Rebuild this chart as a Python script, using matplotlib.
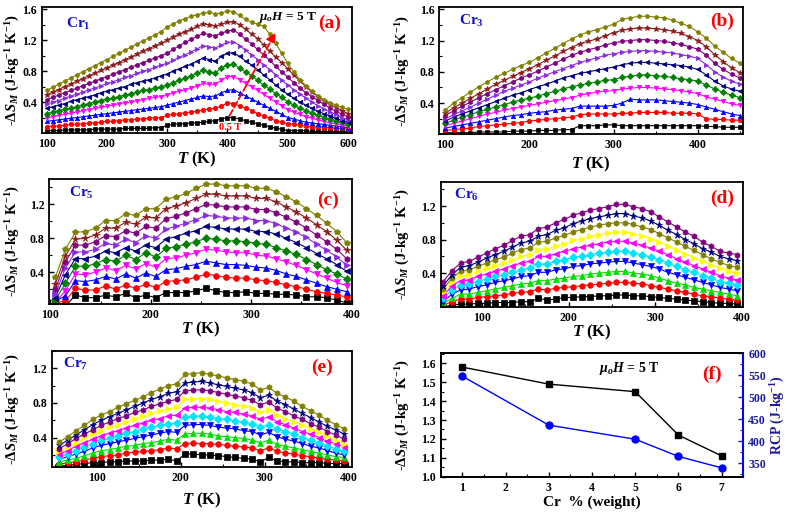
import matplotlib
matplotlib.use('Agg')
import matplotlib.pyplot as plt
from matplotlib.ticker import AutoMinorLocator

plt.rcParams.update({
    'font.family': ['Liberation Serif', 'DejaVu Serif'],
    'font.weight': 'bold',
    'axes.labelweight': 'bold',
    'mathtext.fontset': 'custom',
    'mathtext.rm': 'Liberation Serif:bold',
    'mathtext.it': 'Liberation Serif:italic:bold',
    'mathtext.bf': 'Liberation Serif:bold',
    'xtick.direction': 'in', 'ytick.direction': 'in',
    'xtick.minor.visible': True, 'ytick.minor.visible': True,
    'axes.linewidth': 1.3,
})

# ---------------- data ----------------
T_cr1 = list(range(100, 601, 10))
cr1_ds = [
 [0.03,0.03,0.03,0.04,0.04,0.04,0.04,0.04,0.05,0.05,0.05,0.05,0.05,0.06,0.06,0.06,0.06,0.06,0.07,0.07,
  0.10,0.11,0.12,0.12,0.13,0.13,0.14,0.15,0.16,0.18,0.20,0.20,0.18,0.16,0.14,0.12,0.10,0.08,0.06,0.05,
  0.03,0.03,0.03,0.03,0.02,0.02,0.02,0.02,0.02,0.02,0.02],
 [0.08,0.09,0.09,0.10,0.11,0.11,0.12,0.13,0.13,0.14,0.15,0.15,0.16,0.17,0.17,0.18,0.18,0.19,0.20,0.20,
  0.23,0.24,0.25,0.26,0.27,0.28,0.30,0.31,0.32,0.35,0.39,0.38,0.35,0.32,0.29,0.25,0.22,0.19,0.16,0.14,
  0.12,0.11,0.10,0.09,0.08,0.08,0.07,0.07,0.06,0.06,0.05],
 [0.15,0.16,0.17,0.18,0.19,0.20,0.21,0.22,0.23,0.24,0.25,0.26,0.27,0.28,0.29,0.30,0.31,0.32,0.33,0.34,
  0.36,0.38,0.40,0.42,0.44,0.46,0.48,0.47,0.48,0.52,0.55,0.56,0.52,0.48,0.44,0.40,0.36,0.32,0.28,0.24,
  0.20,0.18,0.16,0.14,0.13,0.12,0.11,0.10,0.09,0.08,0.07],
 [0.20,0.21,0.23,0.24,0.26,0.27,0.29,0.30,0.32,0.33,0.35,0.36,0.38,0.39,0.40,0.42,0.43,0.45,0.46,0.47,
  0.49,0.52,0.54,0.56,0.58,0.61,0.64,0.63,0.63,0.68,0.73,0.73,0.69,0.64,0.60,0.55,0.50,0.45,0.40,0.35,
  0.30,0.27,0.24,0.21,0.19,0.17,0.15,0.13,0.12,0.10,0.09],
 [0.25,0.27,0.29,0.31,0.32,0.34,0.36,0.38,0.40,0.42,0.44,0.45,0.47,0.49,0.51,0.53,0.55,0.56,0.58,0.60,
  0.62,0.65,0.68,0.71,0.74,0.77,0.81,0.79,0.78,0.84,0.88,0.89,0.84,0.79,0.74,0.68,0.62,0.57,0.51,0.46,
  0.40,0.36,0.32,0.29,0.26,0.23,0.20,0.18,0.16,0.14,0.12],
 [0.32,0.34,0.36,0.38,0.41,0.43,0.45,0.47,0.49,0.52,0.54,0.56,0.58,0.60,0.63,0.65,0.67,0.69,0.71,0.74,
  0.76,0.80,0.83,0.86,0.89,0.93,0.97,0.95,0.93,0.99,1.03,1.04,0.99,0.93,0.88,0.82,0.75,0.69,0.62,0.56,
  0.50,0.45,0.40,0.36,0.32,0.28,0.25,0.22,0.19,0.16,0.14],
 [0.37,0.40,0.42,0.45,0.48,0.50,0.53,0.56,0.58,0.61,0.64,0.66,0.69,0.72,0.74,0.77,0.80,0.82,0.85,0.88,
  0.90,0.94,0.98,1.01,1.05,1.09,1.13,1.11,1.10,1.14,1.17,1.18,1.13,1.07,1.01,0.95,0.88,0.82,0.75,0.68,
  0.62,0.56,0.50,0.45,0.40,0.35,0.31,0.27,0.24,0.20,0.17],
 [0.43,0.46,0.49,0.52,0.55,0.58,0.61,0.64,0.67,0.70,0.73,0.76,0.79,0.82,0.85,0.88,0.91,0.94,0.97,1.00,
  1.03,1.08,1.13,1.17,1.21,1.25,1.29,1.27,1.26,1.29,1.32,1.33,1.28,1.21,1.15,1.08,1.01,0.94,0.86,0.79,
  0.72,0.65,0.58,0.52,0.47,0.42,0.37,0.32,0.28,0.24,0.21],
 [0.49,0.53,0.56,0.60,0.63,0.67,0.70,0.74,0.77,0.81,0.84,0.88,0.91,0.95,0.98,1.02,1.06,1.09,1.13,1.16,
  1.20,1.24,1.28,1.31,1.34,1.38,1.41,1.40,1.38,1.41,1.43,1.44,1.40,1.34,1.28,1.22,1.14,1.06,0.98,0.91,
  0.83,0.75,0.67,0.60,0.53,0.47,0.42,0.37,0.33,0.29,0.25],
 [0.55,0.59,0.63,0.67,0.71,0.75,0.79,0.83,0.87,0.91,0.95,0.99,1.03,1.07,1.11,1.15,1.19,1.23,1.27,1.31,
  1.37,1.41,1.45,1.48,1.51,1.53,1.55,1.56,1.54,1.55,1.58,1.57,1.52,1.47,1.43,1.41,1.38,1.28,1.16,1.03,
  0.90,0.79,0.69,0.61,0.54,0.48,0.43,0.39,0.36,0.33,0.31],
]

T_cr3 = list(range(100, 451, 10))
cr3_ds = [
 [0.02,0.02,0.02,0.02,0.03,0.03,0.03,0.03,0.04,0.04,0.04,0.05,0.05,0.05,0.06,0.06,0.11,0.11,0.11,0.12,0.12,
  0.11,0.11,0.11,0.11,0.11,0.11,0.11,0.11,0.11,0.11,0.10,0.10,0.09,0.09,0.09],
 [0.05,0.06,0.07,0.08,0.10,0.11,0.12,0.13,0.14,0.15,0.17,0.18,0.19,0.20,0.21,0.22,0.25,0.26,0.26,0.26,0.26,
  0.27,0.27,0.28,0.28,0.28,0.28,0.27,0.27,0.27,0.26,0.20,0.19,0.19,0.18,0.18],
 [0.08,0.10,0.12,0.14,0.16,0.18,0.20,0.22,0.24,0.25,0.27,0.28,0.29,0.31,0.32,0.33,0.36,0.36,0.36,0.36,0.37,
  0.40,0.45,0.44,0.44,0.44,0.43,0.42,0.41,0.40,0.38,0.35,0.32,0.29,0.26,0.24],
 [0.11,0.14,0.17,0.20,0.23,0.26,0.28,0.31,0.33,0.35,0.37,0.39,0.41,0.43,0.45,0.47,0.50,0.52,0.54,0.55,0.56,
  0.58,0.59,0.60,0.60,0.59,0.58,0.57,0.56,0.54,0.52,0.48,0.45,0.42,0.39,0.37],
 [0.14,0.18,0.22,0.25,0.29,0.32,0.35,0.38,0.41,0.44,0.46,0.49,0.52,0.55,0.58,0.61,0.63,0.65,0.67,0.69,0.70,
  0.73,0.74,0.76,0.76,0.75,0.74,0.73,0.71,0.70,0.68,0.63,0.58,0.54,0.50,0.47],
 [0.17,0.22,0.26,0.30,0.34,0.38,0.42,0.46,0.50,0.53,0.57,0.61,0.64,0.68,0.72,0.75,0.78,0.80,0.82,0.84,0.86,
  0.89,0.91,0.92,0.92,0.91,0.90,0.89,0.88,0.86,0.83,0.76,0.68,0.62,0.58,0.55],
 [0.20,0.25,0.30,0.35,0.40,0.45,0.50,0.55,0.59,0.63,0.67,0.72,0.76,0.80,0.84,0.88,0.92,0.95,0.98,1.01,1.03,
  1.05,1.06,1.07,1.07,1.06,1.05,1.04,1.02,1.00,0.97,0.89,0.80,0.73,0.68,0.64],
 [0.24,0.30,0.36,0.41,0.47,0.52,0.57,0.62,0.67,0.72,0.76,0.81,0.86,0.91,0.96,1.01,1.05,1.08,1.11,1.14,1.17,
  1.19,1.20,1.21,1.21,1.20,1.19,1.17,1.15,1.12,1.09,1.01,0.91,0.83,0.77,0.72],
 [0.27,0.34,0.40,0.46,0.52,0.58,0.64,0.69,0.74,0.79,0.84,0.89,0.95,1.00,1.06,1.11,1.16,1.19,1.22,1.26,1.30,
  1.33,1.35,1.36,1.36,1.35,1.34,1.32,1.29,1.25,1.20,1.12,1.02,0.93,0.85,0.79],
 [0.31,0.40,0.47,0.54,0.61,0.67,0.73,0.78,0.83,0.88,0.92,0.98,1.04,1.10,1.16,1.22,1.27,1.31,1.34,1.37,1.41,
  1.47,1.49,1.51,1.51,1.50,1.49,1.46,1.42,1.38,1.31,1.23,1.13,1.05,0.97,0.91],
]

T_cr5 = list(range(105, 396, 10))
cr5_ds = [
 [0.06,0.00,0.13,0.10,0.10,0.13,0.11,0.15,0.10,0.13,0.10,0.16,0.16,0.16,0.18,0.21,0.18,0.16,0.16,0.17,
  0.15,0.15,0.14,0.14,0.13,0.11,0.11,0.10,0.07,0.04],
 [0.04,0.06,0.21,0.19,0.19,0.24,0.20,0.25,0.21,0.26,0.22,0.29,0.30,0.31,0.34,0.38,0.36,0.34,0.33,0.33,
  0.31,0.30,0.28,0.25,0.23,0.20,0.17,0.15,0.13,0.11],
 [0.06,0.12,0.30,0.29,0.31,0.35,0.32,0.38,0.33,0.39,0.35,0.43,0.44,0.47,0.49,0.53,0.51,0.49,0.49,0.48,
  0.46,0.45,0.42,0.38,0.35,0.31,0.27,0.23,0.20,0.17],
 [0.05,0.18,0.38,0.37,0.40,0.45,0.42,0.48,0.44,0.50,0.46,0.56,0.57,0.60,0.63,0.67,0.66,0.64,0.63,0.63,
  0.60,0.59,0.56,0.52,0.48,0.43,0.38,0.33,0.28,0.24],
 [0.07,0.27,0.47,0.47,0.50,0.55,0.53,0.60,0.55,0.63,0.58,0.68,0.70,0.73,0.76,0.80,0.79,0.77,0.77,0.76,
  0.74,0.73,0.69,0.65,0.61,0.55,0.49,0.43,0.38,0.32],
 [0.10,0.37,0.56,0.56,0.59,0.65,0.63,0.69,0.65,0.72,0.69,0.79,0.82,0.86,0.89,0.94,0.93,0.91,0.91,0.91,
  0.88,0.88,0.85,0.80,0.75,0.69,0.62,0.56,0.49,0.41],
 [0.14,0.45,0.64,0.64,0.67,0.74,0.72,0.79,0.75,0.83,0.80,0.91,0.94,0.98,1.02,1.07,1.06,1.04,1.04,1.04,
  1.01,1.01,0.97,0.92,0.87,0.81,0.73,0.66,0.58,0.48],
 [0.20,0.52,0.72,0.72,0.76,0.83,0.82,0.89,0.86,0.94,0.92,1.03,1.06,1.10,1.15,1.20,1.19,1.17,1.17,1.17,
  1.14,1.14,1.10,1.05,0.99,0.92,0.84,0.76,0.67,0.56],
 [0.26,0.59,0.79,0.80,0.84,0.92,0.92,0.99,0.97,1.05,1.04,1.15,1.18,1.22,1.27,1.32,1.32,1.30,1.30,1.30,
  1.27,1.27,1.23,1.17,1.11,1.04,0.96,0.88,0.78,0.66],
 [0.34,0.67,0.87,0.88,0.92,1.01,1.01,1.09,1.07,1.15,1.15,1.26,1.29,1.33,1.39,1.44,1.44,1.42,1.42,1.42,
  1.39,1.39,1.35,1.29,1.23,1.15,1.07,0.98,0.88,0.75],
]

T_cr6 = list(range(55, 396, 10))
cr6_ds = [
 [0.00,0.02,0.03,0.03,0.04,0.04,0.05,0.05,0.05,0.06,0.06,0.10,0.08,0.09,0.11,0.11,0.12,0.12,0.13,0.13,
  0.14,0.14,0.13,0.13,0.12,0.11,0.10,0.09,0.08,0.07,0.06,0.05,0.04,0.04,0.03],
 [0.02,0.06,0.09,0.09,0.11,0.12,0.13,0.14,0.16,0.17,0.18,0.21,0.20,0.22,0.23,0.24,0.25,0.26,0.27,0.28,
  0.29,0.29,0.28,0.27,0.25,0.23,0.21,0.19,0.17,0.15,0.13,0.12,0.10,0.09,0.08],
 [0.04,0.10,0.15,0.15,0.17,0.19,0.21,0.23,0.25,0.27,0.28,0.31,0.31,0.33,0.34,0.36,0.37,0.39,0.40,0.41,
  0.42,0.42,0.40,0.39,0.37,0.34,0.31,0.28,0.26,0.23,0.21,0.19,0.17,0.15,0.13],
 [0.06,0.15,0.20,0.21,0.24,0.26,0.29,0.31,0.33,0.36,0.37,0.41,0.41,0.44,0.45,0.48,0.49,0.51,0.52,0.53,
  0.54,0.54,0.52,0.50,0.48,0.45,0.41,0.38,0.35,0.32,0.29,0.26,0.23,0.21,0.19],
 [0.10,0.20,0.26,0.27,0.30,0.33,0.36,0.38,0.41,0.44,0.46,0.51,0.51,0.54,0.56,0.59,0.60,0.62,0.64,0.65,
  0.66,0.66,0.64,0.62,0.59,0.56,0.52,0.48,0.44,0.41,0.37,0.34,0.30,0.28,0.26],
 [0.13,0.25,0.31,0.32,0.36,0.39,0.42,0.45,0.49,0.52,0.54,0.60,0.60,0.63,0.66,0.69,0.71,0.73,0.75,0.77,
  0.78,0.78,0.76,0.73,0.70,0.66,0.62,0.57,0.53,0.49,0.45,0.41,0.37,0.34,0.32],
 [0.17,0.30,0.37,0.38,0.42,0.46,0.49,0.52,0.56,0.60,0.62,0.68,0.69,0.72,0.75,0.79,0.81,0.84,0.86,0.88,
  0.89,0.89,0.87,0.84,0.81,0.77,0.72,0.67,0.63,0.58,0.54,0.50,0.46,0.42,0.40],
 [0.21,0.34,0.42,0.44,0.48,0.52,0.56,0.59,0.64,0.68,0.70,0.77,0.78,0.82,0.85,0.89,0.92,0.95,0.97,0.99,
  1.00,1.00,0.98,0.95,0.92,0.87,0.82,0.77,0.72,0.67,0.62,0.57,0.53,0.49,0.47],
 [0.25,0.38,0.47,0.49,0.53,0.58,0.62,0.66,0.71,0.76,0.78,0.84,0.86,0.91,0.94,0.99,1.02,1.05,1.07,1.09,
  1.11,1.11,1.08,1.06,1.02,0.97,0.91,0.86,0.80,0.75,0.69,0.65,0.60,0.57,0.55],
 [0.30,0.43,0.52,0.54,0.59,0.64,0.69,0.73,0.79,0.84,0.86,0.93,0.95,1.00,1.04,1.09,1.12,1.15,1.17,1.19,
  1.22,1.22,1.19,1.17,1.13,1.07,1.01,0.95,0.89,0.84,0.77,0.72,0.66,0.64,0.62],
]

T_cr7 = list(range(55, 396, 10))
cr7_ds = [
 [0.07,0.08,0.09,0.10,0.11,0.11,0.12,0.12,0.13,0.13,0.13,0.14,0.14,0.15,0.13,0.21,0.21,0.20,0.20,0.19,
  0.18,0.17,0.16,0.15,0.12,0.17,0.13,0.12,0.12,0.11,0.11,0.11,0.10,0.10,0.10],
 [0.09,0.11,0.12,0.14,0.16,0.18,0.19,0.20,0.22,0.23,0.24,0.25,0.26,0.28,0.27,0.33,0.34,0.33,0.33,0.32,
  0.31,0.30,0.29,0.28,0.25,0.28,0.24,0.22,0.21,0.19,0.18,0.16,0.15,0.14,0.13],
 [0.12,0.14,0.16,0.19,0.22,0.25,0.26,0.28,0.30,0.31,0.33,0.34,0.36,0.38,0.37,0.44,0.45,0.45,0.44,0.42,
  0.41,0.40,0.39,0.37,0.34,0.37,0.32,0.30,0.28,0.26,0.24,0.22,0.20,0.18,0.17],
 [0.15,0.18,0.21,0.24,0.28,0.31,0.33,0.35,0.37,0.39,0.41,0.43,0.45,0.47,0.46,0.54,0.55,0.55,0.54,0.52,
  0.51,0.50,0.48,0.47,0.43,0.46,0.41,0.38,0.36,0.33,0.30,0.28,0.25,0.22,0.20],
 [0.18,0.21,0.25,0.29,0.33,0.37,0.39,0.42,0.45,0.47,0.50,0.52,0.54,0.56,0.57,0.64,0.65,0.65,0.64,0.62,
  0.61,0.59,0.58,0.56,0.52,0.55,0.50,0.47,0.44,0.40,0.37,0.34,0.30,0.27,0.24],
 [0.21,0.25,0.30,0.34,0.38,0.42,0.45,0.48,0.51,0.54,0.57,0.60,0.62,0.65,0.66,0.74,0.75,0.75,0.74,0.72,
  0.70,0.69,0.67,0.65,0.61,0.64,0.58,0.55,0.51,0.47,0.44,0.40,0.36,0.33,0.29],
 [0.24,0.29,0.34,0.39,0.44,0.48,0.52,0.55,0.58,0.62,0.65,0.68,0.71,0.73,0.75,0.84,0.85,0.85,0.84,0.82,
  0.80,0.78,0.76,0.74,0.69,0.72,0.66,0.62,0.58,0.54,0.50,0.46,0.42,0.37,0.33],
 [0.27,0.33,0.39,0.44,0.49,0.54,0.58,0.62,0.65,0.69,0.72,0.76,0.79,0.82,0.84,0.94,0.95,0.95,0.94,0.92,
  0.90,0.88,0.86,0.83,0.78,0.81,0.74,0.70,0.65,0.61,0.56,0.52,0.47,0.43,0.38],
 [0.31,0.37,0.43,0.49,0.55,0.60,0.64,0.68,0.72,0.76,0.80,0.84,0.87,0.91,0.93,1.03,1.04,1.05,1.03,1.01,
  0.99,0.97,0.95,0.92,0.86,0.89,0.82,0.78,0.73,0.68,0.63,0.58,0.53,0.49,0.44],
 [0.35,0.41,0.48,0.54,0.61,0.66,0.70,0.75,0.79,0.83,0.87,0.92,0.96,1.00,1.02,1.13,1.14,1.15,1.13,1.11,
  1.09,1.07,1.05,1.02,0.95,0.98,0.91,0.87,0.82,0.76,0.71,0.66,0.60,0.55,0.50],
]

cr_content = [1, 3, 5, 6, 7]
peak_ds = [1.58, 1.49, 1.45, 1.22, 1.11]
rcp = [548, 437, 405, 366, 340]

# ---------------- styles ----------------
styleA = [('s', 'black'), ('o', '#ff0000'), ('^', '#0000ff'), ('v', '#ff00ff'),
          ('D', '#008000'), ('<', '#000080'), ('>', '#8a2be2'), ('h', '#800080'),
          ('*', '#8b1a1a'), ('p', '#808000')]
styleD = [('s', 'black'), ('o', '#ff0000'), ('^', '#00dd00'), ('v', '#0000ff'),
          ('D', '#00e5ff'), ('<', '#ff00ff'), ('>', '#ffff00'), ('h', '#808000'),
          ('*', '#000080'), ('h', '#800080')]
styleE = [('s', 'black'), ('o', '#ff0000'), ('^', '#00dd00'), ('v', '#0000ff'),
          ('D', '#00e5ff'), ('<', '#ff00ff'), ('>', '#ffff00'), ('h', '#800080'),
          ('*', '#000080'), ('h', '#808000')]

W, H = 787, 514
fig = plt.figure(figsize=(W / 100, H / 100), dpi=100)

def box(l, t, r, b):
    return [l / W, 1 - b / H, (r - l) / W, (b - t) / H]

YLAB = r'-$\Delta S_M$ (J-kg$^{-1}$ K$^{-1}$)'

def panel(rect, T, rows, styles, ms, xlim, ylim, xt, yt, crtxt, crpos, tag, tagpos, ylx, xly):
    ax = fig.add_axes(rect)
    for row, (m, c) in zip(rows, styles):
        ax.plot(T, row, marker=m, color=c, ms=ms * (1.3 if m == '*' else 1.0),
                lw=0.8, mec=c, mew=0.5)
    ax.set_xlim(*xlim)
    ax.set_ylim(*ylim)
    ax.set_xticks(xt)
    ax.set_yticks(yt)
    ax.xaxis.set_minor_locator(AutoMinorLocator(2))
    ax.yaxis.set_minor_locator(AutoMinorLocator(2))
    ax.tick_params(which='major', length=3.5, width=1, labelsize=8.5, top=False, right=False)
    ax.tick_params(which='minor', length=2, width=0.8, top=False, right=False)
    ax.set_ylabel(YLAB, fontsize=10.5)
    ax.yaxis.set_label_coords(ylx, 0.5)
    ax.set_xlabel(r'$T$ (K)', fontsize=12)
    ax.xaxis.set_label_coords(0.5, xly)
    ax.text(crpos[0], crpos[1], crtxt, transform=ax.transAxes, color='#1010d0',
            fontsize=11, ha='center', va='center')
    ax.text(tagpos[0], tagpos[1], tag, transform=ax.transAxes, color='#ff0000',
            fontsize=14, ha='center', va='center')
    return ax

axA = panel(box(41.7, 7.3, 351.7, 133), T_cr1, cr1_ds, styleA, 3.2, (92, 606), (0, 1.625),
            [100, 200, 300, 400, 500, 600], [0.4, 0.8, 1.2, 1.6], r'Cr$_1$', (0.118, 0.87),
            '(a)', (0.93, 0.87), -0.064, -0.13)
axA.annotate('', xy=(482, 1.33), xytext=(401, 0.19),
             arrowprops=dict(arrowstyle='-|>', color='red', lw=1.3, ls='--', mutation_scale=14))
axA.text(405, 0.065, '0.5 T', color='red', fontsize=7.5, ha='center', va='center')
axA.text(500, 1.49, r'$\mu_o$$H$ = 5 T', color='black', fontsize=9.5, ha='center', va='center')

panel(box(439.3, 7.3, 743.3, 134.3), T_cr3, cr3_ds, styleA, 3.2, (93, 454), (0, 1.625),
      [100, 200, 300, 400], [0.4, 0.8, 1.2, 1.6], r'Cr$_3$', (0.107, 0.89),
      '(b)', (0.93, 0.886), -0.09, -0.165)

panel(box(49.3, 179, 351.7, 304), T_cr5, cr5_ds, styleA, 4.2, (99, 400), (0.025, 1.5),
      [100, 200, 300, 400], [0.4, 0.8, 1.2], r'Cr$_5$', (0.107, 0.886),
      '(c)', (0.923, 0.83), -0.09, -0.125)

panel(box(440.7, 181.7, 743.3, 306.7), T_cr6, cr6_ds, styleD, 4.0, (52, 402), (0, 1.49),
      [100, 200, 300, 400], [0.4, 0.8, 1.2], r'Cr$_6$', (0.086, 0.894),
      '(d)', (0.929, 0.867), -0.095, -0.13)

panel(box(51.7, 351, 351.7, 467), T_cr7, cr7_ds, styleE, 4.0, (46, 404), (0.06, 1.40),
      [100, 200, 300, 400], [0.4, 0.8, 1.2], r'Cr$_7$', (0.08, 0.89),
      '(e)', (0.9, 0.86), -0.099, -0.205)

# panel f
axF = fig.add_axes(box(440.7, 353.3, 743.3, 476.7))
axF.plot(cr_content, peak_ds, marker='s', color='black', ms=5, lw=1)
axF.set_xlim(0.5, 7.5)
axF.set_ylim(1.0, 1.653)
axF.set_xticks([1, 2, 3, 4, 5, 6, 7])
axF.set_yticks([1.0, 1.1, 1.2, 1.3, 1.4, 1.5, 1.6])
axF.set_yticklabels(['1.0', '1.1', '1.2', '1.3', '1.4', '1.5', '1.6'])
axF.xaxis.set_minor_locator(AutoMinorLocator(2))
axF.yaxis.set_minor_locator(AutoMinorLocator(2))
axF.tick_params(which='major', length=3.5, width=1, labelsize=8.5, top=False, right=False)
axF.tick_params(which='minor', length=2, width=0.8, top=False, right=False)
axF.set_ylabel(YLAB, fontsize=10.5)
axF.yaxis.set_label_coords(-0.095, 0.5)
axF.set_xlabel('Cr  % (weight)', fontsize=11)
axF.xaxis.set_label_coords(0.5, -0.155)
axF.text(4.87, 1.575, r'$\mu_o$$H$ = 5 T', fontsize=10, ha='center', va='center')
axF.text(6.78, 1.54, '(f)', color='#ff0000', fontsize=14, ha='center', va='center')

axR = axF.twinx()
axR.plot(cr_content, rcp, marker='o', color='#0000ff', ms=5, lw=1)
axR.set_ylim(320, 600)
axR.set_yticks([350, 400, 450, 500, 550, 600])
axR.yaxis.set_minor_locator(AutoMinorLocator(2))
axR.tick_params(axis='y', which='major', length=3.5, width=1, labelsize=8.5, colors='#1a1a9a')
axR.tick_params(axis='y', which='minor', length=2, width=0.8, colors='#1a1a9a')
axR.spines['right'].set_color('#0000ff')
axR.spines['right'].set_linewidth(1.5)
axR.set_ylabel('RCP (J-kg$^{-1}$)', fontsize=10, color='#1a1a9a')
axR.yaxis.set_label_coords(1.085, 0.5)

fig.savefig('out.png', dpi=100)
